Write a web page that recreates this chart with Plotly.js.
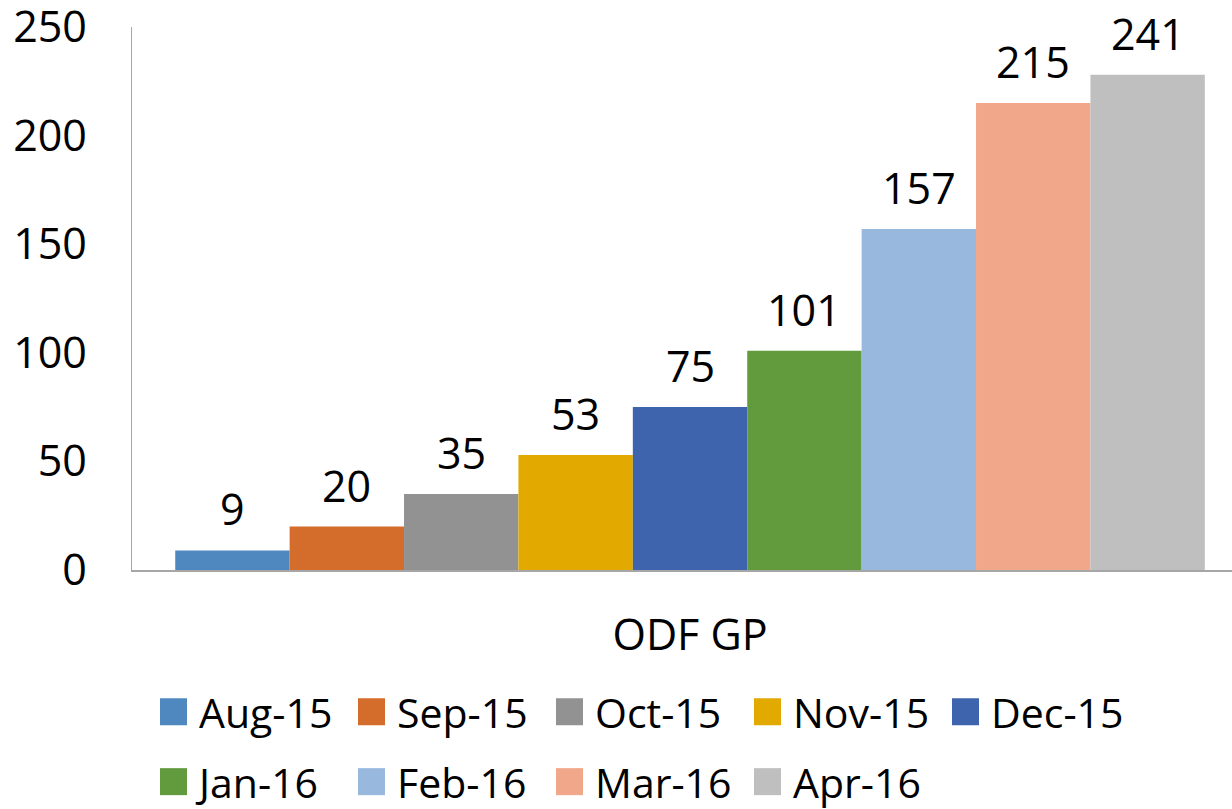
<!DOCTYPE html>
<html><head><meta charset="utf-8">
<script src="https://cdn.plot.ly/plotly-3.0.1.min.js"></script>
<style>
html,body{margin:0;padding:0;background:#fff;}
#chart{width:1232px;height:809px;}
.legendpoints path{transform:translate(24.5px,0) scale(2.25);}
</style></head><body><div id="chart"></div>
<script>
const category = ['ODF GP'];
const months = ['Aug-15','Sep-15','Oct-15','Nov-15','Dec-15','Jan-16','Feb-16','Mar-16','Apr-16'];
const barValues = [9, 20, 35, 53, 75, 101, 157, 215, 228];
const labelValues = [9, 20, 35, 53, 75, 101, 157, 215, 241];
const colors = ['#4f88bf','#d46d2b','#929292','#e2a900','#3d64ac','#629a3e','#98b8de','#f1a78a','#bfbfbf'];
const yTicks = [0, 50, 100, 150, 200, 250];

const FONT = '"Open Sans", sans-serif';
const BARGAP = 0.064;

const traces = months.map((m, i) => ({
  type: 'bar',
  name: m,
  x: category,
  y: [barValues[i]],
  marker: {color: colors[i]},
  legend: i < 5 ? 'legend' : 'legend2',
  hoverinfo: 'name+y'
}));

// data labels: placed at each grouped bar's centre (category index + group offset)
const slot = (1 - BARGAP) / months.length;
const annotations = months.map((m, i) => ({
  xref: 'x', yref: 'y',
  x: (i - (months.length - 1) / 2) * slot,
  y: barValues[i],
  text: String(labelValues[i]),
  showarrow: false,
  xanchor: 'center', yanchor: 'bottom',
  yshift: 10,
  font: {family: FONT, size: 43, color: '#000'}
}));

const legendBase = {
  orientation: 'h',
  xref: 'container', yref: 'container',
  xanchor: 'left', yanchor: 'middle',
  x: 149 / 1232,
  font: {family: FONT, size: 41, color: '#000'},
  entrywidth: 143,
  itemwidth: 40,
  bgcolor: 'rgba(0,0,0,0)',
  borderwidth: 0,
  traceorder: 'normal'
};

const layout = {
  width: 1232, height: 809,
  paper_bgcolor: '#fff', plot_bgcolor: '#fff',
  margin: {l: 132, r: 0, t: 27, b: 239, autoexpand: false},
  barmode: 'group',
  bargap: BARGAP,
  bargroupgap: 0,
  font: {family: FONT, size: 43, color: '#000'},
  showlegend: true,
  annotations: annotations,
  xaxis: {
    type: 'category',
    range: [-0.5073, 0.4927],
    showline: true, linecolor: '#a6a6a6', linewidth: 1.5,
    ticks: '', showgrid: false, zeroline: false,
    ticklabelstandoff: 27,
    tickfont: {family: FONT, size: 43, color: '#000'}
  },
  yaxis: {
    range: [0, 250],
    tickvals: yTicks,
    ticktext: yTicks.map(String),
    showline: true, linecolor: '#a6a6a6', linewidth: 1.5,
    ticks: '', showgrid: false, zeroline: false,
    ticklabelstandoff: 35,
    ticklabeloverflow: 'allow',
    tickfont: {family: FONT, size: 43, color: '#000'}
  },
  legend: Object.assign({}, legendBase, {y: (809 - 712) / 809}),
  legend2: Object.assign({}, legendBase, {y: (809 - 782) / 809})
};

Plotly.newPlot('chart', traces, layout, {displayModeBar: false, staticPlot: true});
</script></body></html>
